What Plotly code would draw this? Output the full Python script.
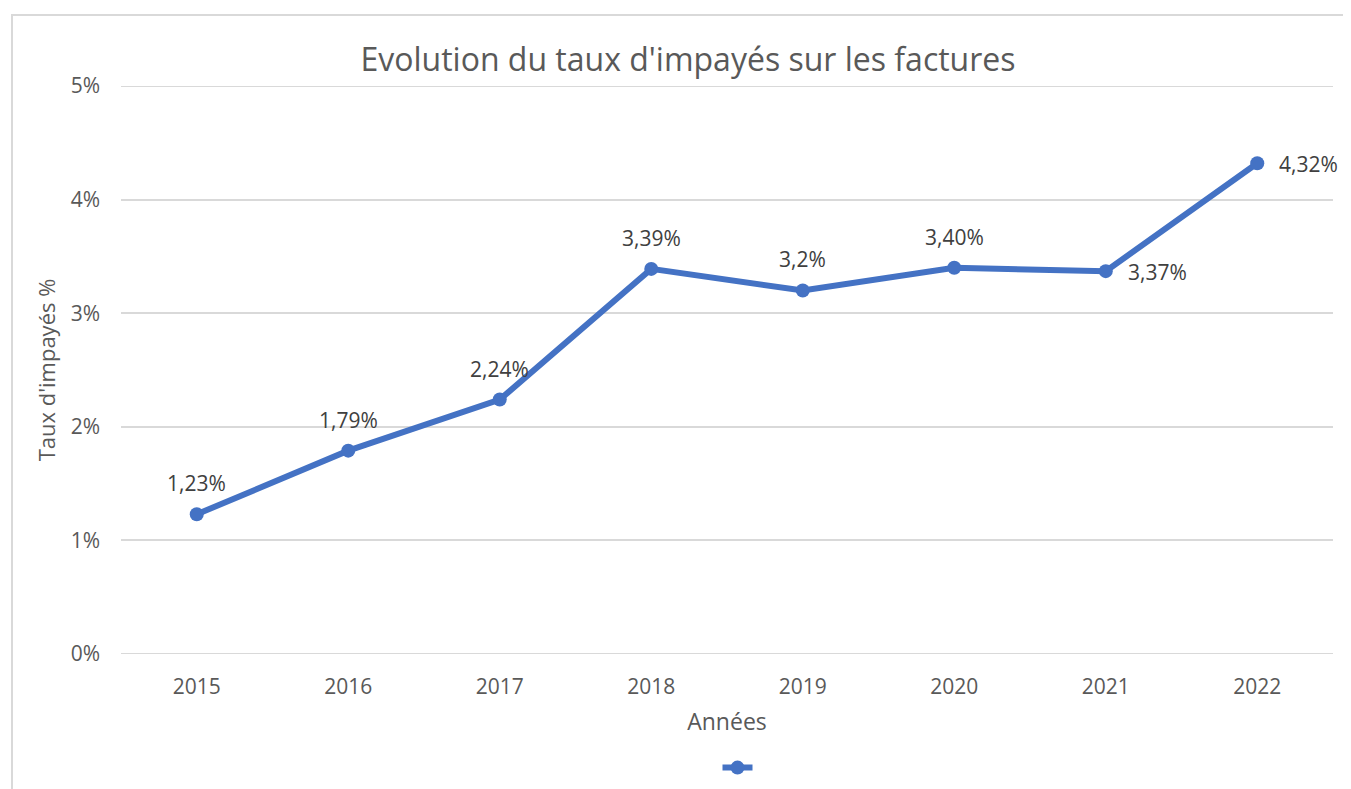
import plotly.graph_objects as go

years = ["2015", "2016", "2017", "2018", "2019", "2020", "2021", "2022"]
rates = [1.23, 1.79, 2.24, 3.39, 3.20, 3.40, 3.37, 4.32]
labels = ["1,23%", "1,79%", "2,24%", "3,39%", "3,2%", "3,40%", "3,37%", "4,32%"]
label_pos = ["top", "top", "top", "top", "top", "top", "right", "right"]
y_ticks = [0, 1, 2, 3, 4, 5]
y_ticklabels = ["0%", "1%", "2%", "3%", "4%", "5%"]

FONT = "Open Sans"
GREY = "#595959"
BLUE = "#4472C4"
GRID = "#D9D9D9"

# page offset from default body margin
OFF = 8
W, H = 1351 - OFF, 789 - OFF
L, T = 121 - OFF, 86 - OFF
PW, PH = 1212, 568
R = W - L - PW
B = H - T - PH

def px_x(px):
    return (px - OFF - L) / PW

def px_y(py):
    return (H - B - (py - OFF)) / PH

fig = go.Figure()
fig.add_trace(go.Scatter(
    x=list(range(len(years))), y=rates, mode="lines+markers",
    line=dict(color=BLUE, width=6),
    marker=dict(color=BLUE, size=14),
    name="", showlegend=True, hoverinfo="skip",
))

annotations = []
for i, (v, t, p) in enumerate(zip(rates, labels, label_pos)):
    if p == "top":
        annotations.append(dict(x=i, y=v, text=t, showarrow=False, yshift=31,
                                xanchor="center", yanchor="middle",
                                font=dict(family=FONT, size=21, color="#404040")))
    else:
        annotations.append(dict(x=i, y=v, text=t, showarrow=False, xshift=20,
                                xanchor="left", yanchor="middle", yshift=-1,
                                font=dict(family=FONT, size=21, color="#404040")))

shapes = [dict(type="rect", xref="paper", yref="paper",
               x0=px_x(12), x1=1.2, y0=-0.5, y1=px_y(15),
               line=dict(color=GRID, width=2), layer="below")]
for yv in (y_ticks[0], y_ticks[-1]):
    shapes.append(dict(type="line", xref="paper", yref="y", x0=0, x1=1, y0=yv, y1=yv,
                       line=dict(color=GRID, width=2), layer="below"))

fig.update_layout(
    width=W, height=H,
    paper_bgcolor="white", plot_bgcolor="white",
    margin=dict(l=L, r=R, t=T, b=B, autoexpand=False),
    title=dict(text="Evolution du taux d'impayés sur les factures",
               x=(688 - OFF) / W, xanchor="center", y=1 - (60 - OFF) / H, yanchor="middle",
               font=dict(family=FONT, size=32, color=GREY)),
    font=dict(family=FONT, color=GREY),
    xaxis=dict(range=[-0.5, len(years) - 0.5], tickmode="array",
               tickvals=list(range(len(years))), ticktext=years,
               showgrid=False, zeroline=False, showline=False, ticks="",
               ticklabelstandoff=18,
               tickfont=dict(family=FONT, size=21, color=GREY),
               title=dict(text="Années", font=dict(family=FONT, size=23, color=GREY),
                          standoff=14)),
    yaxis=dict(range=[0, 5], tickmode="array", tickvals=y_ticks, ticktext=y_ticklabels,
               showgrid=True, gridcolor=GRID, gridwidth=2, zeroline=False,
               showline=False, ticks="", ticklabelstandoff=20,
               tickfont=dict(family=FONT, size=21, color=GREY),
               title=dict(text="Taux d'impayés %", font=dict(family=FONT, size=22, color=GREY),
                          standoff=8)),
    legend=dict(orientation="h", x=px_x(740), xanchor="center",
                y=px_y(768), yanchor="middle",
                font=dict(family=FONT, size=14), itemwidth=30),
    annotations=annotations,
    shapes=shapes,
)

fig.write_html("out.html")
